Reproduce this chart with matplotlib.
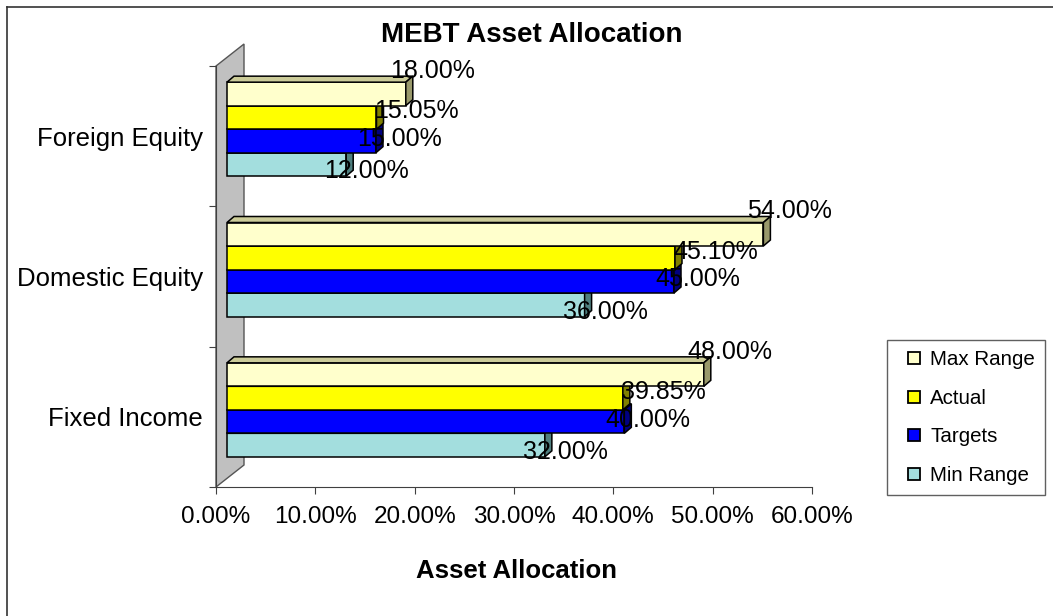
import matplotlib.pyplot as plt
from matplotlib.lines import Line2D
from matplotlib.patches import Polygon

plt.rcParams['font.family'] = ['Liberation Sans', 'DejaVu Sans']

# data (bottom category first)
categories = ["Fixed Income", "Domestic Equity", "Foreign Equity"]
min_range = [32.00, 36.00, 12.00]
targets = [40.00, 45.00, 15.00]
actual = [39.85, 45.10, 15.05]
max_range = [48.00, 54.00, 18.00]
xticks = [0, 10, 20, 30, 40, 50, 60]

# series drawn bottom -> top inside each group: name, values, front, top, side, label offset (px)
series = [
    ("Min Range", min_range, "#A3DEDE", "#7FAFAF", "#4F7F7F", (-22, -7)),
    ("Targets", targets, "#0000FF", "#0000B0", "#000080", (-19, 2)),
    ("Actual", actual, "#FFFF00", "#B0B000", "#808000", (-2, 6)),
    ("Max Range", max_range, "#FFFFCC", "#CCCC99", "#99996B", (-16, 23)),
]

W, H = 1053, 616
fig = plt.figure(figsize=(W / 100, H / 100), dpi=100)
ax = fig.add_axes([216 / W, 1 - 487 / H, 596 / W, 421 / H])
ax.set_xlim(0, 60)
ax.set_ylim(0, 3)

sx = 596 / 60   # px per percent
sy = 421 / 3    # px per category slot
x0 = 11 / sx
bh = 23.5 / sy
dx, dy = 7 / sx, 6 / sy
shift = 7 / sy

# back wall
wall = Polygon([(0, 0), (0, 3), (28 / sx, 3 + 22 / sy), (28 / sx, 22 / sy)],
               closed=True, fc="#C0C0C0", ec="#555555", lw=1, clip_on=False, zorder=1)
ax.add_patch(wall)

for c in range(len(categories)):
    base = c + 0.5 + shift - 2 * bh
    for k, (name, vals, face, top, side, off) in enumerate(series):
        y = base + k * bh
        v = vals[c]
        z = 3 + k
        ax.barh(y, v, height=bh, left=x0, align="edge", color=face,
                edgecolor="black", linewidth=1.1, zorder=z)
        ax.add_patch(Polygon([(x0, y + bh), (x0 + dx, y + bh + dy),
                              (x0 + v + dx, y + bh + dy), (x0 + v, y + bh)],
                             closed=True, fc=top, ec="black", lw=1.1, zorder=z))
        ax.add_patch(Polygon([(x0 + v, y), (x0 + v + dx, y + dy),
                              (x0 + v + dx, y + bh + dy), (x0 + v, y + bh)],
                             closed=True, fc=side, ec="black", lw=1.1, zorder=z))
        ax.annotate(f"{v:.2f}%", xy=(x0 + v, y + bh / 2), xytext=off,
                    textcoords="offset pixels", ha="left", va="center",
                    fontsize=18, zorder=20)

for s in ["top", "right"]:
    ax.spines[s].set_visible(False)
for s in ["left", "bottom"]:
    ax.spines[s].set_color("#404040")
    ax.spines[s].set_zorder(2)

ax.set_yticks([0, 1, 2, 3])
ax.set_yticklabels([])
ax.set_yticks([0.5, 1.5, 2.5], minor=True)
ax.set_yticklabels(categories, minor=True)
ax.tick_params(axis="y", which="major", length=5, color="#404040")
ax.tick_params(axis="y", which="minor", length=0, pad=9.5, labelsize=18.5)

ax.set_xticks(xticks)
ax.set_xticklabels([f"{t:.2f}%" for t in xticks])
ax.tick_params(axis="x", length=5, pad=9, labelsize=17.5, color="#404040")

fig.text(532 / W, 1 - 42 / H, "MEBT Asset Allocation", ha="center", va="baseline",
         fontsize=20, fontweight="bold")
fig.text(517 / W, 1 - 578 / H, "Asset Allocation", ha="center", va="baseline",
         fontsize=18.5, fontweight="bold")

# legend
handles = []
for name, vals, face, top, side, off in series[::-1]:
    handles.append(Line2D([], [], linestyle="none", marker="s", markersize=8.6,
                          markerfacecolor=face, markeredgecolor="black",
                          markeredgewidth=1.3, label=name))
fig.legend(handles=handles, loc="upper left", bbox_to_anchor=(887 / W, 1 - 340 / H),
           bbox_transform=fig.transFigure, borderaxespad=0, fontsize=14.8,
           frameon=True, fancybox=False, edgecolor="#606060", framealpha=1,
           borderpad=0.5, labelspacing=0.95, handlelength=1.6, handletextpad=0.0)

# outer chart border (left and top edges visible)
fig.add_artist(Line2D([7 / W, 7 / W], [1 - 7 / H, 0], transform=fig.transFigure,
                      color="#333333", lw=1.2))
fig.add_artist(Line2D([7 / W, 1], [1 - 7 / H, 1 - 7 / H], transform=fig.transFigure,
                      color="#333333", lw=1.2))

fig.savefig("out.png", dpi=100)
